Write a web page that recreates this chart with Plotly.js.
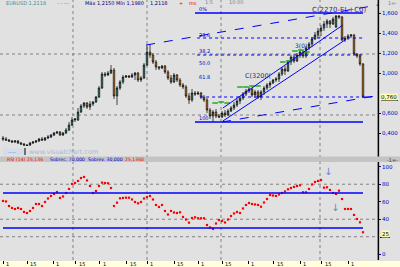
<!DOCTYPE html>
<html><head><meta charset="utf-8">
<script src="https://cdn.plot.ly/plotly-3.0.1.min.js"></script>
<style>html,body{margin:0;padding:0;background:#e1e1e1;overflow:hidden}#chart{width:400px;height:267px}</style>
</head><body><div id="chart"></div>
<script>
// ---- price bars (weekly) ----
const openP = [
 350,340,330,320,310,320,300,290,280,280,
 300,310,320,340,330,350,360,380,400,410,
 380,400,430,480,530,530,610,670,700,660,
 690,710,760,850,990,980,1000,1030,770,850,
 910,960,970,960,980,1000,930,950,1080,1210,
 1180,1110,1060,1050,1070,1010,950,910,980,930,
 880,860,770,730,800,790,800,760,730,630,
 570,610,570,560,600,580,620,650,680,720,
 750,790,820,840,780,810,760,810,850,880,
 900,930,940,990,1040,1020,1110,1160,1120,1180,
 1210,1170,1250,1290,1340,1380,1420,1450,1490,1520,
 1490,1460,1570,1560,1330,1350,1370,1380,1190,1170,
 1090];
const highP = [
 370,360,340,330,330,330,310,300,290,310,
 320,330,350,360,360,380,390,410,420,420,
 410,450,510,560,550,650,690,710,710,720,
 720,770,870,1010,1010,1020,1080,1050,870,930,
 980,980,980,1000,1010,1010,970,1100,1280,1290,
 1200,1130,1070,1080,1080,1030,980,1000,990,950,
 900,880,800,840,820,820,810,780,750,650,
 630,640,590,620,630,640,670,710,740,770,
 810,840,860,850,830,830,830,870,900,920,
 940,960,1010,1060,1070,1130,1180,1170,1200,1230,
 1230,1270,1310,1360,1410,1450,1480,1520,1540,1530,
 1560,1580,1580,1570,1370,1390,1390,1390,1200,1190,
 1100];
const lowP = [
 320,320,310,300,300,290,280,270,270,270,
 290,300,310,320,320,340,350,370,390,370,
 370,390,420,470,510,520,600,650,640,630,
 670,700,750,840,960,970,990,740,680,830,
 890,950,950,950,930,910,910,940,1070,1150,
 1090,1030,1030,1040,990,930,890,900,910,860,
 840,750,690,710,770,780,740,710,600,540,
 510,550,550,550,560,570,610,630,660,690,
 730,770,800,760,750,740,730,780,830,850,
 890,910,910,970,980,1010,1080,1100,1110,1150,
 1150,1150,1230,1260,1330,1350,1370,1420,1450,1450,
 1480,1450,1540,1320,1310,1330,1350,1180,1150,1070,
 750];
const closeP = [
 340,330,320,310,320,300,290,280,275,300,
 310,320,340,330,350,360,380,400,410,380,
 400,430,480,530,540,610,670,700,660,690,
 710,760,850,990,980,1000,1030,770,850,910,
 960,970,960,980,1000,930,950,1080,1210,1180,
 1110,1060,1050,1070,1010,950,910,980,930,880,
 860,770,730,800,790,800,760,730,630,570,
 610,570,560,600,580,620,650,680,720,750,
 790,820,840,780,810,760,810,850,880,900,
 930,940,990,1040,1020,1110,1160,1120,1180,1210,
 1170,1250,1290,1340,1380,1420,1450,1490,1520,1490,
 1540,1570,1560,1330,1350,1370,1380,1190,1170,1090,
 760];
// ---- RSI(14) ----
const rsi = [
 60.9,60.3,55.1,52.9,51.7,52.9,51.7,48.3,47.1,49.4,
 52.9,57.4,57.4,55.1,59.7,63.7,66.6,68.9,71.1,64.3,
 66.0,70.0,74.6,80.3,81.4,83.7,87.1,88.3,84.3,78.0,
 70.0,72.3,78.0,81.8,81.4,81.1,75.7,55.1,58.9,63.9,
 64.3,64.6,64.6,62.6,59.7,58.2,59.7,63.7,65.4,66.6,
 62.6,56.3,54.0,56.3,49.4,45.4,49.4,47.7,47.1,47.9,
 42.6,39.7,36.1,41.4,42.2,41.1,41.1,41.1,33.4,30.6,
 28.9,35.1,39.1,38.0,36.3,39.7,43.7,46.6,48.3,47.1,
 52.3,56.3,58.6,57.4,56.9,56.3,54.3,59.1,63.1,67.7,
 67.1,66.6,68.3,70.0,71.7,74.2,75.7,76.9,78.0,78.8,
 70.8,70.8,74.6,79.7,82.6,83.7,84.9,76.1,76.5,73.4,
 70.0,68.9,72.6,63.1,51.7,51.7,51.7,44.9,40.3,36.5,
 25.1];
// ---- green signal marks ----
const sigX = [70.7,72.7,74.7,79,81,83,85,93.3,95.3,97.3,99.3,101.3];
const sigY = [700,710,700,860,860,870,870,1110,1120,1220,1230,1210];
// ---- axis labels ----
const priceTicks = [1600,1400,1200,1000,600,400];
const priceTickText = ['1,600','1,400','1,200','1,000','0,600','0,400'];
const rsiTicks = [0,40,60,80,100];
const xTicks = [0,8,16.67,24.33,32.33,41.33,48,57,65,73,81.67,90.33,99,106.33,115];
const xTickText = ['1','15','1','15','1','15','1','15','1','15','1','15','1','15','1'];
const lastPrice = '0,760';
const lastRsi = '25';

const barIndex = closeP.map((_, i) => i);

const W = 378, H = 260;
const PX = x => x / W, PY = y => (H - y) / H;

const traces = [
 {type:'candlestick', x:barIndex, open:openP, high:highP, low:lowP, close:closeP,
  xaxis:'x', yaxis:'y', whiskerwidth:0, hoverinfo:'skip',
  increasing:{line:{color:'#000000', width:0.7}, fillcolor:'#3a9888'},
  decreasing:{line:{color:'#000000', width:0.7}, fillcolor:'#ff8c10'}},
 {type:'scatter', mode:'markers', x:sigX, y:sigY, xaxis:'x', yaxis:'y',
  marker:{symbol:'line-ew', size:4, line:{color:'#22aa22', width:1.5}}, hoverinfo:'skip'},
 {type:'scatter', mode:'markers', x:barIndex, y:rsi, xaxis:'x', yaxis:'y2',
  marker:{symbol:'square', size:2.2, color:'#ff0000'}, hoverinfo:'skip'}
];

const dotGray = {color:'#808080', width:1, dash:'dot'};
const blue = '#0000ff';
const shapes = [];
[23.33, 48, 72.67, 105.67].forEach(v => shapes.push({type:'line', xref:'x', yref:'paper', x0:v, x1:v, y0:0, y1:1, line:dotGray, layer:'below'}));
[1190, 580].forEach(v => shapes.push({type:'line', xref:'paper', yref:'y', x0:0, x1:1, y0:v, y1:v, line:dotGray, layer:'below'}));
[80, 40, 20].forEach(v => shapes.push({type:'line', xref:'paper', yref:'y2', x0:0, x1:1, y0:v, y1:v, line:dotGray, layer:'below'}));
[70, 30].forEach(v => shapes.push({type:'line', xref:'x', yref:'y2', x0:0, x1:120, y0:v, y1:v, line:{color:blue, width:1.5}}));
shapes.push({type:'line', xref:'x', yref:'y', x0:64, x1:120, y0:1600, y1:1600, line:{color:blue, width:1.5}});
shapes.push({type:'line', xref:'x', yref:'y', x0:64, x1:120, y0:510, y1:510, line:{color:blue, width:1.5}});
[1350, 1180].forEach(v => shapes.push({type:'line', xref:'x', yref:'y', x0:64.7, x1:120, y0:v, y1:v, line:{color:blue, width:1, dash:'dot'}}));
shapes.push({type:'line', xref:'x', yref:'y', x0:65.7, x1:120, y0:760, y1:760, line:{color:blue, width:1, dash:'dot'}});
shapes.push({type:'line', xref:'x', yref:'y', x0:120, x1:124.5, y0:760, y1:760, line:{color:blue, width:1, dash:'dash'}});
shapes.push({type:'line', xref:'x', yref:'y', x0:47.7, x1:125, y0:1280, y1:1680, line:{color:blue, width:1, dash:'dash'}});
shapes.push({type:'line', xref:'x', yref:'y', x0:73, x1:124, y0:510, y1:770, line:{color:blue, width:1, dash:'dash'}});
shapes.push({type:'line', xref:'x', yref:'y', x0:73.3, x1:113.3, y0:650, y1:1480, line:{color:blue, width:1}});
shapes.push({type:'line', xref:'x', yref:'y', x0:73.3, x1:114, y0:520, y1:1330, line:{color:blue, width:1}});
shapes.push({type:'line', xref:'paper', yref:'paper', x0:1.001, x1:1.001, y0:0, y1:1, line:{color:'#000000', width:1.5}});
shapes.push({type:'rect', xref:'paper', yref:'paper', x0:0, x1:400/W, y0:PY(162), y1:PY(156.5), fillcolor:'#c4c4c4', line:{width:0}});
shapes.push({type:'rect', xref:'paper', yref:'paper', x0:0, x1:400/W, y0:PY(268), y1:PY(261), fillcolor:'#ffffdc', line:{width:0}, layer:'below'});
shapes.push({type:'rect', xref:'paper', yref:'paper', x0:PX(3), x1:PX(25), y0:PY(155), y1:PY(148.5), fillcolor:'#d4dcea', line:{width:0}});
shapes.push({type:'line', xref:'paper', yref:'paper', x0:PX(25), x1:PX(25), y0:PY(155), y1:PY(148), line:{color:'#000', width:1}});
shapes.push({type:'line', xref:'paper', yref:'paper', x0:PX(381), x1:PX(398), y0:PY(100.5), y1:PY(100.5), line:{color:'#000', width:1}});
shapes.push({type:'line', xref:'paper', yref:'paper', x0:PX(380), x1:PX(390), y0:PY(237.5), y1:PY(237.5), line:{color:'#000', width:1}});

const F = 'DejaVu Sans';
function txt(x, y, t, color, size, anchor, extra) {
  return Object.assign({xref:'paper', yref:'paper', x:PX(x), y:PY(y), text:t, showarrow:false,
    xanchor:anchor || 'left', yanchor:'middle', font:{family:F, size:size, color:color}}, extra || {});
}
const annotations = [
  txt(4, 3.5, 'EURUSD 1,2118', '#3f8f8f', 5),
  txt(55, 3.5, '- - ---', '#3f8f8f', 5),
  txt(83, 3.5, 'Máx 1,2150 Mín 1,1980', '#000080', 5),
  txt(148, 3.5, '1,2118', '#000080', 5),
  txt(177, 3.5, '+', '#ff0000', 5),
  txt(187, 3.5, 'ms', '#ff0000', 5),
  txt(203, 2.5, '1:5', '#6c8c8c', 5),
  txt(227, 2.5, '10:00', '#6c8c8c', 5),
  txt(392, 3.5, '1=-', '#808080', 5, 'center'),
  txt(197, 9.5, '0%', '#0000c0', 5),
  txt(197, 35, '23.6', '#0000c0', 5),
  txt(197, 51.5, '38.2', '#0000c0', 5),
  txt(197, 62.5, '50.0', '#0000c0', 5),
  txt(197, 77, '61.8', '#0000c0', 5),
  txt(197, 118, '100', '#0000c0', 5),
  txt(339, 10.5, 'C(2270-EL+C0)', '#303070', 7, 'center'),
  txt(258, 76, 'C(3200(', '#303070', 6.5, 'center'),
  txt(301, 45, '3(0)', '#303070', 6, 'center'),
  txt(389, 97, lastPrice, '#000000', 5.5, 'center', {bgcolor:'#ffffb0', borderpad:0}),
  txt(385, 233.5, lastRsi, '#000000', 5.5, 'center', {bgcolor:'#ffffb0', borderpad:0}),
  txt(27, 152, 'www.visualchart.com', '#a9b9d3', 6.5),
  txt(6, 151.5, '.....', '#2050a0', 5),
  txt(5, 159.5, 'RSI (14)', '#ff0000', 4.6),
  txt(25, 159.5, '25,136', '#ff0000', 4.6),
  txt(48, 159.5, 'Sobrec. 70,000', '#0000cc', 4.6),
  txt(86, 159.5, 'Sobrev. 30,000', '#0000cc', 4.6),
  txt(123, 159.5, '25,1360', '#ff0000', 4.6),
  txt(392, 159.5, '-1=-', '#404040', 5, 'center'),
  {xref:'x', yref:'y2', x:108.3, y:94, text:'↓', showarrow:false, font:{family:F, size:10, color:'#7080d8'}},
  {xref:'x', yref:'y2', x:110.7, y:53, text:'↓', showarrow:false, font:{family:F, size:10, color:'#7080d8'}}
];
// date labels inside the bottom band
xTicks.forEach((v, k) => annotations.push({xref:'x', yref:'paper', x:v, y:PY(264.3), text:xTickText[k],
  showarrow:false, xanchor:'left', yanchor:'middle', xshift:1, font:{family:F, size:5, color:'#000'}}));

const layout = {
  width:400, height:267, margin:{l:0, r:22, t:0, b:7, pad:0},
  paper_bgcolor:'#e1e1e1', plot_bgcolor:'#e1e1e1', showlegend:false,
  font:{family:F, size:6},
  xaxis:{range:[-1,125], anchor:'y2', showgrid:false, zeroline:false, showline:false,
    tickvals:xTicks, showticklabels:false, ticks:'outside', ticklen:3, tickcolor:'#000',
    rangeslider:{visible:false}, fixedrange:true},
  yaxis:{domain:[PY(153),1], range:[200,1730], side:'right', anchor:'x', showgrid:false, zeroline:false,
    tickvals:priceTicks, ticktext:priceTickText, ticks:'outside', ticklen:2, tickcolor:'#0000c0',
    tickfont:{family:F, size:5.5, color:'#0000c0'}},
  yaxis2:{domain:[0,PY(162)], range:[-6.6,105.4], side:'right', anchor:'x', showgrid:false, zeroline:false,
    tickvals:rsiTicks, ticks:'outside', ticklen:2, tickcolor:'#0000c0',
    tickfont:{family:F, size:5.5, color:'#0000c0'}},
  shapes:shapes, annotations:annotations
};
Plotly.newPlot('chart', traces, layout, {staticPlot:true, displayModeBar:false});
</script></body></html>
